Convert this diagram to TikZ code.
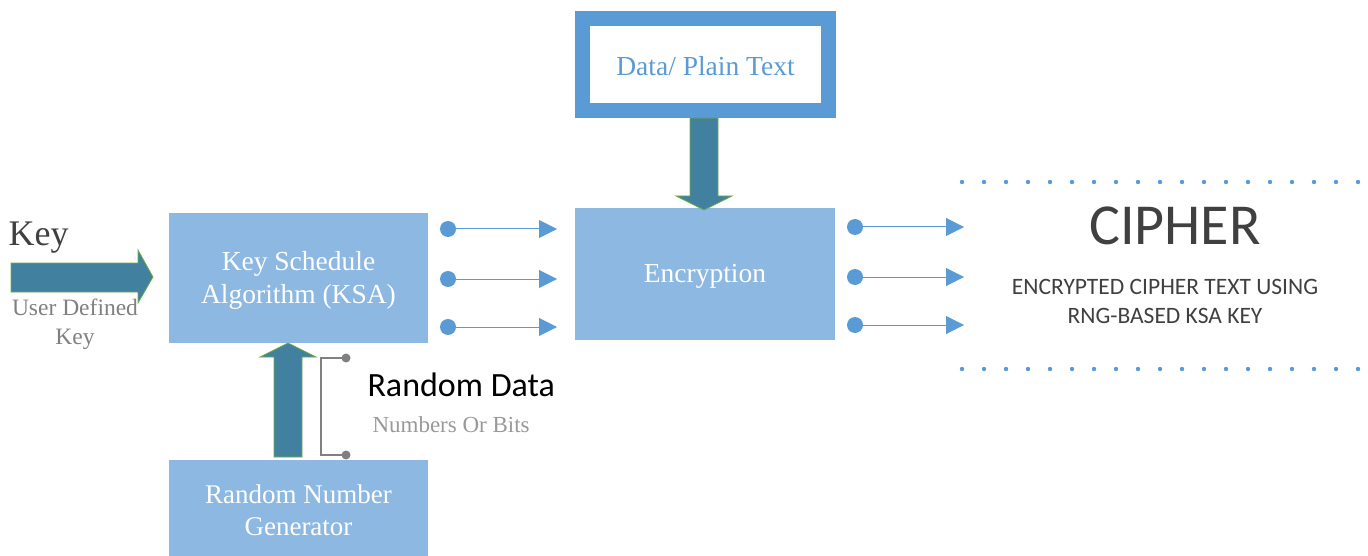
\documentclass[tikz,border=0pt]{standalone}
\usepackage{fontspec}
\setmainfont{Liberation Serif}
\newfontfamily\calib{Carlito}
\usetikzlibrary{arrows.meta}
\definecolor{boxfill}{HTML}{8DB8E2}
\definecolor{teal}{HTML}{41809E}
\definecolor{blueb}{HTML}{5B9BD5}
\definecolor{grn}{HTML}{70AD47}
\definecolor{dgray}{HTML}{404040}
\tikzset{
  pbox/.style={draw=none, fill=boxfill},
  boxtext/.style={text=white, align=center, font=\fontsize{27.5}{33}\selectfont},
  fatarrow/.style={fill=teal, draw=grn, line width=0.8pt},
  conn/.style={draw=blueb, line width=1pt, -{Triangle[length=18pt,width=18pt]}},
  dotc/.style={circle, fill=blueb, inner sep=0pt, minimum size=16pt},
  gdot/.style={circle, fill=gray, inner sep=0pt, minimum size=9pt},
}
\begin{document}
\begin{tikzpicture}[x=1pt,y=-1pt]
\useasboundingbox (0,0) rectangle (1368,556);
% boxes
\fill[pbox] (169,213) rectangle (428,343);
\node[boxtext] (ksa) at (298.5,280) {Key Schedule\\Algorithm (KSA)};
\fill[pbox] (575,208) rectangle (835,340);
\node[boxtext] (enc) at (705,276) {Encryption};
\fill[pbox] (169,460) rectangle (428,556);
\node[boxtext, font=\fontsize{27}{32}\selectfont] (rng) at (298.5,510) {Random Number\\Generator};
% data box
\fill[blueb] (575,11) rectangle (836,118);
\fill[white] (590,26) rectangle (821,103);
\node[text=blueb, font=\fontsize{27.5}{32}\selectfont] (data) at (705.5,66) {Data/ Plain Text};
% fat arrows
\draw[fatarrow] (690,118) -- (718,118) -- (718,196) -- (732,196) -- (704,210) -- (676,196) -- (690,196) -- cycle;
\draw[fatarrow] (11,263) -- (138,263) -- (138,250) -- (153,277) -- (138,303) -- (138,292) -- (11,292) -- cycle;
\draw[fatarrow] (274,457) -- (274,357) -- (260,357) -- (288,343) -- (316,357) -- (302,357) -- (302,457) -- cycle;
% key texts
\node[anchor=west, text=dgray, font=\fontsize{36}{38}\selectfont] (key) at (5,238) {Key};
\node[text=gray, align=center, font=\fontsize{23.5}{29}\selectfont] (udk) at (75,324) {User Defined\\Key};
% bracket
\node[gdot] (b1) at (346,358) {};
\node[gdot] (b2) at (346,455) {};
\draw[gray, line width=1.6pt] (b1.center) -- (321,358) -- (321,455) -- (b2.center);
\node[anchor=west, font=\calib\fontsize{34}{38}\selectfont] (rd) at (364,385) {Random Data};
\node[anchor=west, text=gray!80, font=\fontsize{23}{27}\selectfont] (nob) at (369,425) {Numbers Or Bits};
% small arrows KSA -> Enc
\foreach \y/\n in {229/a,279/b,327/c}{
  \node[dotc] (k\n) at (448,\y) {};
  \coordinate (ke\n) at (557,\y);
  \draw[conn] (k\n.center) -- (ke\n);
}
\foreach \y/\n in {227/a,277/b,325/c}{
  \node[dotc] (e\n) at (855,\y) {};
  \coordinate (ee\n) at (964,\y);
  \draw[conn] (e\n.center) -- (ee\n);
}
% dotted lines
\foreach \i in {0,...,18}{
  \fill[blueb] (962+\i*22,182) circle (2.2);
  \fill[blueb] (962+\i*22,369) circle (2.2);
}
\node[text=dgray, font=\calib\fontsize{58}{60}\selectfont] (cipher) at (1175,226) {CIPHER};
\node[text=dgray, align=center, font=\calib\fontsize{23.5}{29}\selectfont] (sub) at (1165,301) {ENCRYPTED CIPHER TEXT USING\\RNG-BASED KSA KEY};
\end{tikzpicture}
\end{document}
